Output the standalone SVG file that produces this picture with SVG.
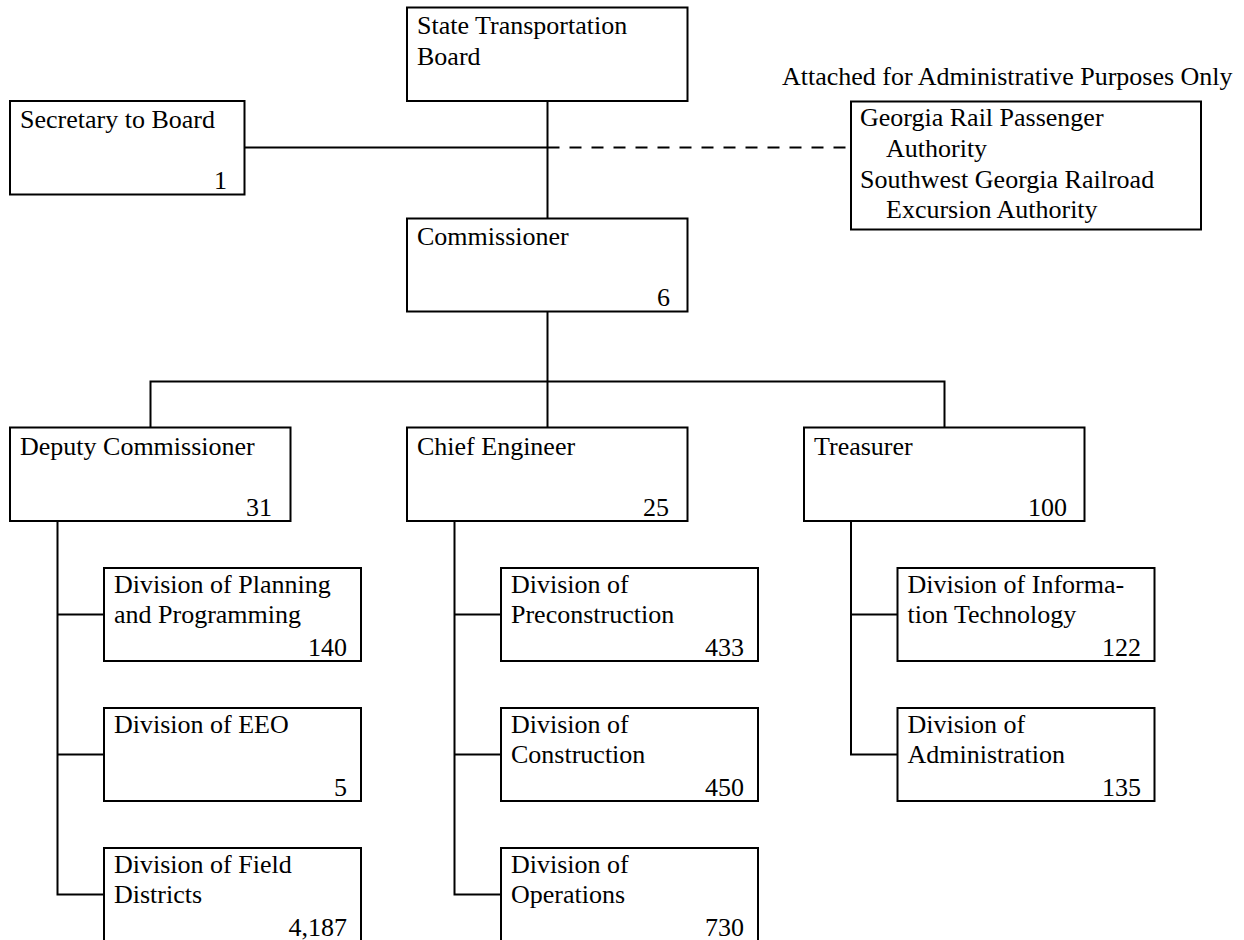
<svg xmlns="http://www.w3.org/2000/svg" width="1244" height="940" viewBox="0 0 1244 940">
<style>
.box{fill:#fff;stroke:#000;stroke-width:2}
.ln{fill:none;stroke:#000;stroke-width:2}
.dash{fill:none;stroke:#000;stroke-width:2;stroke-dasharray:12 10}
text{font-family:"Liberation Serif","Times New Roman",serif;font-size:26px;fill:#000}
.num{text-anchor:end}
</style>
<rect width="1244" height="940" fill="#fff"/>
<g id="connectors">
<line class="ln" x1="547.5" y1="101" x2="547.5" y2="218.5"/>
<line class="ln" x1="244.5" y1="147.5" x2="547.5" y2="147.5"/>
<line class="dash" x1="547.5" y1="147.5" x2="851" y2="147.5"/>
<line class="ln" x1="547.5" y1="311.5" x2="547.5" y2="427.5"/>
<polyline class="ln" points="150.5,427.5 150.5,381.5 944.5,381.5 944.5,427.5"/>
<polyline class="ln" points="57.5,521 57.5,894.5 104,894.5"/>
<line class="ln" x1="57.5" y1="614.5" x2="104" y2="614.5"/>
<line class="ln" x1="57.5" y1="754.5" x2="104" y2="754.5"/>
<polyline class="ln" points="454.5,521 454.5,894.5 501,894.5"/>
<line class="ln" x1="454.5" y1="614.5" x2="501" y2="614.5"/>
<line class="ln" x1="454.5" y1="754.5" x2="501" y2="754.5"/>
<polyline class="ln" points="851,521 851,754.5 897.5,754.5"/>
<line class="ln" x1="851" y1="614.5" x2="897.5" y2="614.5"/>
</g>
<g id="board">
<rect class="box" x="407" y="7.5" width="280.5" height="93.5"/>
<text x="417" y="34">State Transportation</text>
<text x="417" y="65">Board</text>
</g>
<g id="secretary">
<rect class="box" x="10" y="101" width="234.5" height="93.5"/>
<text x="20" y="128">Secretary to Board</text>
<text class="num" x="227" y="189">1</text>
</g>
<g id="attached">
<text x="782" y="85">Attached for Administrative Purposes Only</text>
<rect class="box" x="851" y="101.5" width="350" height="128"/>
<text x="860" y="126">Georgia Rail Passenger</text>
<text x="886" y="157">Authority</text>
<text x="860" y="188">Southwest Georgia Railroad</text>
<text x="886" y="218">Excursion Authority</text>
</g>
<g id="commissioner">
<rect class="box" x="407" y="218.5" width="280.5" height="93"/>
<text x="417" y="245">Commissioner</text>
<text class="num" x="670" y="306">6</text>
</g>
<g id="deputy">
<rect class="box" x="10" y="427.5" width="280.5" height="93.5"/>
<text x="20" y="454.5">Deputy Commissioner</text>
<text class="num" x="272" y="515.5">31</text>
</g>
<g id="chief">
<rect class="box" x="407" y="427.5" width="280.5" height="93.5"/>
<text x="417" y="454.5">Chief Engineer</text>
<text class="num" x="669" y="515.5">25</text>
</g>
<g id="treasurer">
<rect class="box" x="804" y="427.5" width="280.5" height="93.5"/>
<text x="814" y="454.5">Treasurer</text>
<text class="num" x="1067" y="515.5">100</text>
</g>
<g id="div-planning">
<rect class="box" x="104" y="568" width="257" height="93"/>
<text x="114" y="592.5">Division of Planning</text>
<text x="114" y="622.5">and Programming</text>
<text class="num" x="347" y="655.5">140</text>
</g>
<g id="div-eeo">
<rect class="box" x="104" y="708" width="257" height="93"/>
<text x="114" y="732.5">Division of EEO</text>
<text class="num" x="347" y="795.5">5</text>
</g>
<g id="div-field">
<rect class="box" x="104" y="848" width="257" height="93"/>
<text x="114" y="872.5">Division of Field</text>
<text x="114" y="902.5">Districts</text>
<text class="num" x="347" y="935.5">4,187</text>
</g>
<g id="div-precon">
<rect class="box" x="501" y="568" width="257" height="93"/>
<text x="511" y="592.5">Division of</text>
<text x="511" y="622.5">Preconstruction</text>
<text class="num" x="744" y="655.5">433</text>
</g>
<g id="div-construction">
<rect class="box" x="501" y="708" width="257" height="93"/>
<text x="511" y="732.5">Division of</text>
<text x="511" y="762.5">Construction</text>
<text class="num" x="744" y="795.5">450</text>
</g>
<g id="div-operations">
<rect class="box" x="501" y="848" width="257" height="93"/>
<text x="511" y="872.5">Division of</text>
<text x="511" y="902.5">Operations</text>
<text class="num" x="744" y="935.5">730</text>
</g>
<g id="div-it">
<rect class="box" x="897.5" y="568" width="257" height="93"/>
<text x="907.5" y="592.5">Division of Informa-</text>
<text x="907.5" y="622.5">tion Technology</text>
<text class="num" x="1141" y="655.5">122</text>
</g>
<g id="div-admin">
<rect class="box" x="897.5" y="708" width="257" height="93"/>
<text x="907.5" y="732.5">Division of</text>
<text x="907.5" y="762.5">Administration</text>
<text class="num" x="1141" y="795.5">135</text>
</g>
</svg>
